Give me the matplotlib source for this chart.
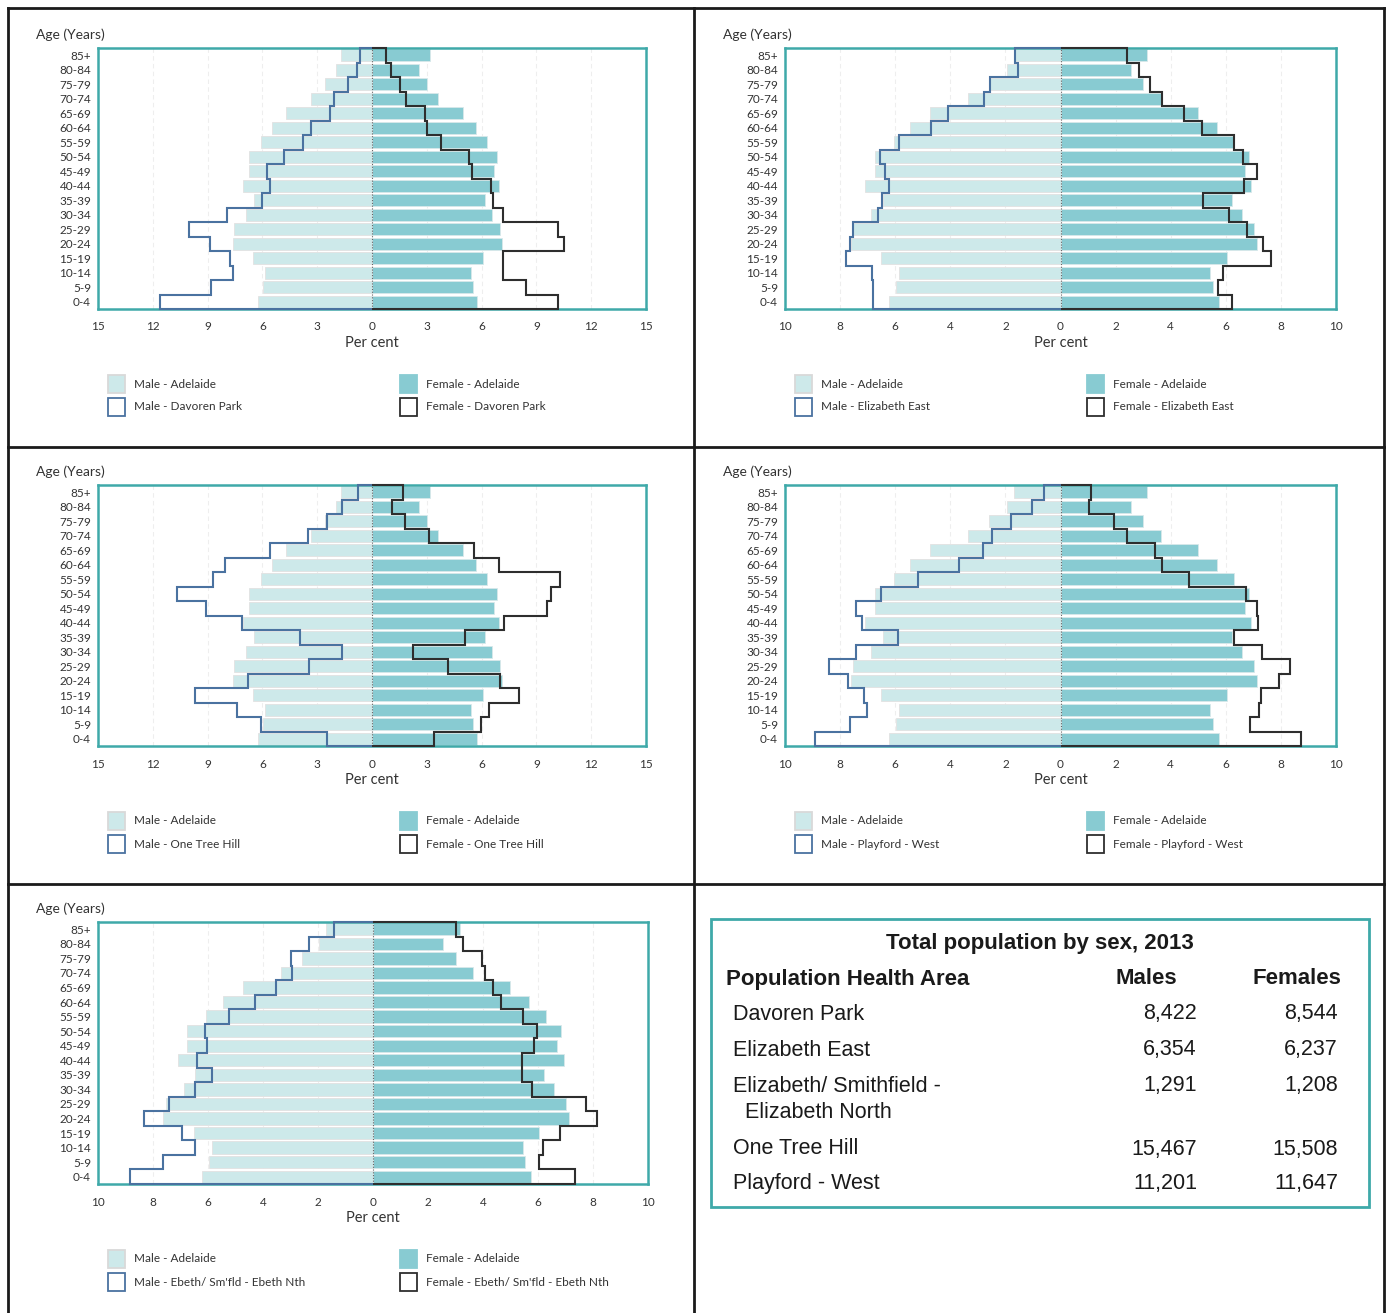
import numpy as np
import matplotlib
matplotlib.use("Agg")
import matplotlib.pyplot as plt
from matplotlib.patches import Rectangle
from matplotlib.lines import Line2D

W, H = 1387, 1313
plt.rcParams['font.family'] = ['Lato', 'DejaVu Sans']

# ---------------- data (top row 85+ down to 0-4) ----------------
age_groups = ["85+", "80-84", "75-79", "70-74", "65-69", "60-64", "55-59", "50-54",
              "45-49", "40-44", "35-39", "30-34", "25-29", "20-24", "15-19", "10-14",
              "5-9", "0-4"]

male_adelaide = [1.70, 1.95, 2.58, 3.34, 4.72, 5.45, 6.06, 6.75, 6.75, 7.08, 6.46, 6.89,
                 7.53, 7.62, 6.51, 5.86, 5.96, 6.22]
female_adelaide = [3.15, 2.55, 3.00, 3.64, 4.99, 5.67, 6.28, 6.83, 6.70, 6.93, 6.21, 6.57,
                   7.02, 7.13, 6.05, 5.44, 5.52, 5.74]

male_davoren = [0.64, 0.83, 1.32, 2.08, 2.30, 3.35, 3.76, 4.81, 5.77, 5.60, 6.03, 7.94,
                10.02, 8.87, 7.77, 7.60, 8.80, 11.60]
female_davoren = [0.78, 1.03, 1.54, 1.86, 2.88, 3.00, 3.76, 5.30, 5.45, 6.52, 6.65, 7.16,
                  10.19, 10.53, 7.16, 7.16, 8.45, 10.19]

male_eliz_east = [1.65, 1.54, 2.56, 2.78, 4.08, 4.69, 5.86, 6.55, 6.36, 6.23, 6.47, 6.63,
                  7.54, 7.65, 7.80, 6.84, 6.80, 6.80]
female_eliz_east = [2.43, 2.86, 3.24, 3.69, 4.48, 5.15, 6.31, 6.63, 7.15, 6.67, 5.19, 6.10,
                    6.76, 7.35, 7.65, 5.91, 5.71, 6.23]

male_one_tree = [0.78, 1.66, 2.47, 3.52, 5.57, 8.04, 8.72, 10.68, 9.09, 7.13, 3.93, 1.66,
                 3.44, 6.77, 9.68, 7.38, 6.06, 2.49]
female_one_tree = [1.71, 1.10, 1.81, 3.13, 5.57, 6.94, 10.29, 9.80, 9.58, 7.23, 5.11, 2.22,
                   4.15, 7.01, 8.06, 6.38, 5.99, 3.42]

male_playford = [0.60, 1.05, 1.78, 2.48, 2.83, 3.69, 5.19, 6.52, 7.41, 7.22, 5.91, 7.41,
                 8.41, 7.70, 7.12, 7.04, 7.65, 8.90]
female_playford = [1.10, 1.02, 1.94, 2.43, 3.43, 3.67, 4.66, 6.72, 7.12, 7.17, 6.28, 7.31,
                   8.33, 7.93, 7.28, 7.20, 6.88, 8.74]

male_ebeth = [1.43, 2.31, 2.99, 2.96, 3.54, 4.29, 5.25, 6.10, 6.05, 6.41, 5.87, 6.46,
              7.43, 8.34, 6.93, 6.47, 7.63, 8.83]
female_ebeth = [3.02, 3.27, 3.98, 4.08, 4.37, 4.67, 5.45, 5.98, 5.85, 5.40, 5.43, 5.77,
                7.76, 8.13, 6.80, 6.18, 6.02, 7.33]

ticks_15 = [-15, -12, -9, -6, -3, 0, 3, 6, 9, 12, 15]
ticks_10 = [-10, -8, -6, -4, -2, 0, 2, 4, 6, 8, 10]

table_areas = ["Davoren Park", "Elizabeth East", "Elizabeth/ Smithfield -\n  Elizabeth North",
               "One Tree Hill", "Playford - West"]
table_males = ["8,422", "6,354", "1,291", "15,467", "11,201"]
table_females = ["8,544", "6,237", "1,208", "15,508", "11,647"]

# ---------------- styles ----------------
C_MALE = "#cde9ea"
C_FEMALE = "#88cbd2"
C_MALE_LINE = "#4a72a0"
C_FEMALE_LINE = "#2e2e2e"
C_FRAME = "#3fa9a9"
C_TEXT = "#333333"

fig = plt.figure(figsize=(W / 100, H / 100), dpi=100)


def fx(x):
    return x / W


def fy(y):
    return 1 - y / H


def draw_panel(left, right, top, bottom, ticks, male_reg, female_reg, region):
    ax = fig.add_axes([fx(left), fy(bottom), fx(right - left), (bottom - top) / H])
    n = len(age_groups)
    ypos = np.arange(n)[::-1]  # 85+ at top
    lim = ticks[-1]
    for t in ticks:
        if t != 0:
            ax.axvline(t, color="#eeeeee", lw=0.8, ls=(0, (4, 3)), zorder=0)
    ax.barh(ypos, -np.array(male_adelaide), height=0.84, color=C_MALE,
            edgecolor="#e2e2e2", lw=0.6, zorder=1)
    ax.barh(ypos, np.array(female_adelaide), height=0.84, color=C_FEMALE,
            edgecolor="#d8e8ea", lw=0.6, zorder=1)
    edges = np.arange(n + 1) - 0.5
    ax.stairs(-np.array(male_reg)[::-1], edges, orientation="horizontal", baseline=0,
              color=C_MALE_LINE, lw=1.5, zorder=3, clip_on=False)
    ax.stairs(np.array(female_reg)[::-1], edges, orientation="horizontal", baseline=0,
              color=C_FEMALE_LINE, lw=1.5, zorder=3, clip_on=False)
    ax.axvline(0, color="#666666", lw=0.8, ls=(0, (1, 1.5)), zorder=2)
    ax.set_xlim(-lim, lim)
    ax.set_ylim(-0.5, n - 0.5)
    ax.set_xticks(ticks)
    ax.set_xticklabels([str(abs(t)) for t in ticks])
    ax.set_yticks(ypos)
    ax.set_yticklabels(age_groups)
    ax.tick_params(length=0, labelsize=8.5, colors=C_TEXT, pad=5)
    ax.tick_params(axis="x", pad=9)
    for s in ax.spines.values():
        s.set_color(C_FRAME)
        s.set_linewidth(1.8)
    mid = (left + right) / 2
    fig.text(fx(left - 62), fy(top - 13), "Age (Years)", fontsize=10, color=C_TEXT,
             ha="left", va="center")
    fig.text(fx(mid), fy(bottom + 34), "Per cent", fontsize=10.5, color=C_TEXT,
             ha="center", va="center")
    # legend
    items = [
        (left + 10, bottom + 75, C_MALE, "#d9d9d9", "Male - Adelaide"),
        (left + 10, bottom + 98, "white", C_MALE_LINE, "Male - " + region),
        (left + 302, bottom + 75, C_FEMALE, C_FEMALE, "Female - Adelaide"),
        (left + 302, bottom + 98, "white", C_FEMALE_LINE, "Female - " + region),
    ]
    for x, y, fc, ec, lab in items:
        fig.add_artist(Rectangle((fx(x), fy(y + 9)), 17 / W, 18 / H, facecolor=fc,
                                 edgecolor=ec, lw=1.3, transform=fig.transFigure))
        fig.text(fx(x + 26), fy(y), lab, fontsize=8.5, color=C_TEXT, ha="left",
                 va="center")
    return ax


draw_panel(98, 646, 48, 309, ticks_15, male_davoren, female_davoren, "Davoren Park")
draw_panel(785, 1336, 48, 309, ticks_10, male_eliz_east, female_eliz_east, "Elizabeth East")
draw_panel(98, 646, 485, 746, ticks_15, male_one_tree, female_one_tree, "One Tree Hill")
draw_panel(785, 1336, 485, 746, ticks_10, male_playford, female_playford, "Playford - West")
draw_panel(98, 648, 922, 1184, ticks_10, male_ebeth, female_ebeth, "Ebeth/ Sm'fld - Ebeth Nth")

# ---------------- grid borders ----------------
for x in (8, 694, 1384):
    fig.add_artist(Line2D([fx(x), fx(x)], [fy(8), fy(1313)], color="#1a1a1a", lw=2,
                          transform=fig.transFigure))
for y in (8, 447, 884):
    fig.add_artist(Line2D([fx(8), fx(1384)], [fy(y), fy(y)], color="#1a1a1a", lw=2,
                          transform=fig.transFigure))

# ---------------- table ----------------
fig.add_artist(Rectangle((fx(711), fy(1207)), (1369 - 711) / W, (1207 - 919) / H,
                         facecolor="none", edgecolor=C_FRAME, lw=2,
                         transform=fig.transFigure))
tf = ['Liberation Sans', 'DejaVu Sans']
fig.text(fx(1040), fy(943), "Total population by sex, 2013", family=tf, fontsize=16,
         fontweight="bold", color="#1a1a1a", ha="center", va="center")
fig.text(fx(726), fy(979), "Population Health Area", family=tf, fontsize=16,
         fontweight="bold", color="#1a1a1a", ha="left", va="center")
fig.text(fx(1146), fy(979), "Males", family=tf, fontsize=16, fontweight="bold",
         color="#1a1a1a", ha="center", va="center")
fig.text(fx(1297), fy(979), "Females", family=tf, fontsize=16, fontweight="bold",
         color="#1a1a1a", ha="center", va="center")
row_y = [1014, 1050, 1086, 1149, 1184]
for name, m, f, y in zip(table_areas, table_males, table_females, row_y):
    lines = name.split("\n")
    for k, line in enumerate(lines):
        fig.text(fx(733), fy(y + 27 * k), line, family=tf, fontsize=15.5,
                 color="#1a1a1a", ha="left", va="center")
    fig.text(fx(1197), fy(y), m, family=tf, fontsize=15.5, color="#1a1a1a",
             ha="right", va="center")
    fig.text(fx(1338), fy(y), f, family=tf, fontsize=15.5, color="#1a1a1a",
             ha="right", va="center")

fig.savefig("out.png", dpi=100)
